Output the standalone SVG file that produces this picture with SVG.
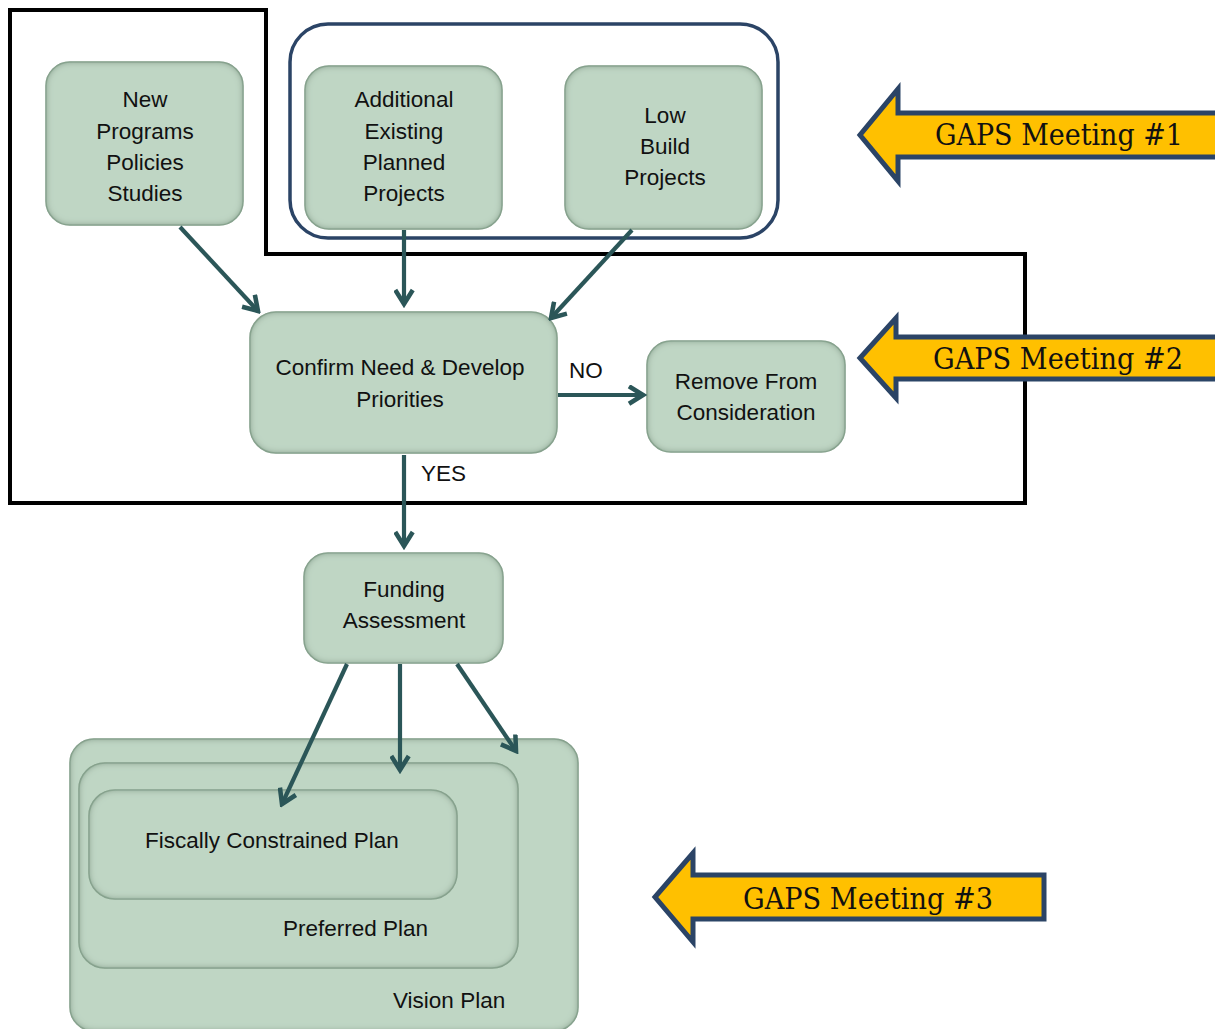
<svg xmlns="http://www.w3.org/2000/svg" width="1215" height="1029" viewBox="0 0 1215 1029">
<style>
.node{fill:#bfd6c4;stroke:#9fb9a5;stroke-width:1.5;filter:url(#inset)}
.t{font-family:"Liberation Sans",Arial,sans-serif;font-size:22.5px;fill:#111;text-anchor:middle}
.lbl{font-family:"Liberation Sans",Arial,sans-serif;font-size:22.5px;fill:#111}
.conn{stroke:#2b5658;stroke-width:4.2;fill:none;marker-end:url(#chev)}
.gaps{fill:#ffc000;stroke:#2b4466;stroke-width:5}
.gt{font-family:"DejaVu Serif","Liberation Serif",serif;font-size:29px;fill:#111}
</style>
<defs>
<marker id="chev" viewBox="0 0 12 12" refX="10" refY="6" markerWidth="5" markerHeight="5" markerUnits="strokeWidth" orient="auto">
<path d="M2,1 L10,6 L2,11" fill="none" stroke="#2b5658" stroke-width="2.6"/>
</marker>
<filter id="inset" x="-5%" y="-5%" width="110%" height="110%">
<feFlood flood-color="#5f7e68" result="f"/>
<feComposite in="f" in2="SourceAlpha" operator="out" result="o"/>
<feGaussianBlur in="o" stdDeviation="3.5" result="b"/>
<feComposite in="b" in2="SourceAlpha" operator="in" result="s"/>
<feMerge><feMergeNode in="SourceGraphic"/><feMergeNode in="s"/></feMerge>
</filter>
</defs>
<rect width="1215" height="1029" fill="#fff"/>

<g id="meeting2-boundary">
<path d="M10,10 H266 V254 H1025 V503 H10 Z" fill="none" stroke="#000" stroke-width="4"/>
</g>
<g id="meeting1-group">
<rect x="290" y="24" width="488" height="214" rx="38" fill="none" stroke="#2b4466" stroke-width="3.5"/>
</g>

<g id="vision-plan">
<rect class="node" x="70" y="739" width="508" height="292" rx="24"/>
<text class="lbl" x="393" y="1008">Vision Plan</text>
</g>
<g id="preferred-plan">
<rect class="node" x="79" y="763" width="439" height="205" rx="26"/>
<text class="lbl" x="283" y="936">Preferred Plan</text>
</g>
<g id="fiscal-plan">
<rect class="node" x="89" y="790" width="368" height="109" rx="26"/>
<text class="lbl" x="145" y="848">Fiscally Constrained Plan</text>
</g>

<g id="new-programs">
<rect class="node" x="46" y="62" width="197" height="163" rx="24"/>
<text class="t" x="145" y="107">New</text>
<text class="t" x="145" y="139">Programs</text>
<text class="t" x="145" y="170">Policies</text>
<text class="t" x="145" y="201">Studies</text>
</g>
<g id="additional">
<rect class="node" x="305" y="66" width="197" height="163" rx="24"/>
<text class="t" x="404" y="107">Additional</text>
<text class="t" x="404" y="139">Existing</text>
<text class="t" x="404" y="170">Planned</text>
<text class="t" x="404" y="201">Projects</text>
</g>
<g id="low-build">
<rect class="node" x="565" y="66" width="197" height="163" rx="24"/>
<text class="t" x="665" y="123">Low</text>
<text class="t" x="665" y="154">Build</text>
<text class="t" x="665" y="185">Projects</text>
</g>
<g id="confirm">
<rect class="node" x="250" y="312" width="307" height="141" rx="26"/>
<text class="t" x="400" y="375">Confirm Need &amp; Develop</text>
<text class="t" x="400" y="407">Priorities</text>
</g>
<g id="remove">
<rect class="node" x="647" y="341" width="198" height="111" rx="24"/>
<text class="t" x="746" y="389">Remove From</text>
<text class="t" x="746" y="420">Consideration</text>
</g>
<g id="funding">
<rect class="node" x="304" y="553" width="199" height="110" rx="24"/>
<text class="t" x="404" y="597">Funding</text>
<text class="t" x="404" y="628">Assessment</text>
</g>

<g id="connectors">
<line class="conn" x1="180" y1="227" x2="258" y2="311"/>
<line class="conn" x1="404" y1="230" x2="404" y2="304"/>
<line class="conn" x1="632" y1="230" x2="551" y2="318"/>
<line class="conn" x1="558" y1="395" x2="643" y2="395"/>
<line class="conn" x1="404" y1="455" x2="404" y2="546"/>
<line class="conn" x1="347" y1="664" x2="282" y2="804"/>
<line class="conn" x1="400" y1="664" x2="400" y2="770"/>
<line class="conn" x1="457" y1="664" x2="516" y2="751"/>
<text class="lbl" x="569" y="378">NO</text>
<text class="lbl" x="421" y="481">YES</text>
</g>

<g id="gaps1">
<path class="gaps" d="M1218,113 H898 V89 L860,135 L898,181 V157 H1218 Z"/>
<text class="gt" x="935" y="145" textLength="248" lengthAdjust="spacingAndGlyphs">GAPS Meeting #1</text>
</g>
<g id="gaps2">
<path class="gaps" d="M1218,337 H896 V318 L860,358 L896,398 V379 H1218 Z"/>
<text class="gt" x="933" y="369" textLength="250" lengthAdjust="spacingAndGlyphs">GAPS Meeting #2</text>
</g>
<g id="gaps3">
<path class="gaps" d="M1044,875 H693 V853 L655,897 L693,942 V919 H1044 Z"/>
<text class="gt" x="743" y="909" textLength="250" lengthAdjust="spacingAndGlyphs">GAPS Meeting #3</text>
</g>
</svg>
